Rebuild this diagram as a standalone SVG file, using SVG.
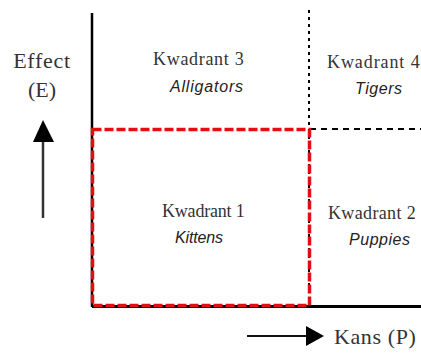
<svg xmlns="http://www.w3.org/2000/svg" width="421" height="354" viewBox="0 0 421 354">
<defs>
<style>
.serif{font-family:"Liberation Serif","DejaVu Serif",serif;fill:#333;}
.kw{font-size:18px;letter-spacing:0.3px;}
.lab{font-family:"Liberation Sans",Arial,sans-serif;font-style:italic;font-size:16px;fill:#222;}
.ax{font-size:22px;}
</style>
</defs>
<rect width="421" height="354" fill="#fff"/>
<g id="connectors">
<line x1="92" y1="13" x2="92" y2="307" stroke="#000" stroke-width="2.5"/>
<line x1="92" y1="306.5" x2="421" y2="306.5" stroke="#000" stroke-width="3"/>
<line x1="309" y1="10" x2="309" y2="306" stroke="#000" stroke-width="2" stroke-dasharray="3 4"/>
<line x1="310" y1="129" x2="421" y2="129" stroke="#000" stroke-width="2" stroke-dasharray="6 5"/>
<rect x="92.5" y="129.5" width="217" height="176" fill="none" stroke="#e01010" stroke-width="3.5" stroke-dasharray="9 3"/>
<line x1="43" y1="218" x2="43" y2="138" stroke="#333" stroke-width="2.5"/>
<polygon points="43,120 33,142 54,142" fill="#000"/>
<line x1="247" y1="336" x2="309" y2="336" stroke="#111" stroke-width="2"/>
<polygon points="324,336 306,326 306,346" fill="#000"/>
</g>
<g id="axis-y"><text class="serif ax" x="42" y="68" text-anchor="middle" letter-spacing="0.7">Effect</text><text class="serif ax" x="42" y="97" text-anchor="middle">(E)</text></g>
<g id="axis-x"><text class="serif ax" x="334" y="344" letter-spacing="0.6">Kans (P)</text></g>
<g id="q3"><text class="serif kw" x="153" y="65" textLength="91">Kwadrant 3</text><text class="lab" x="170" y="92" textLength="73">Alligators</text></g>
<g id="q4"><text class="serif kw" x="327" y="68" textLength="93">Kwadrant 4</text><text class="lab" x="355" y="94" textLength="47">Tigers</text></g>
<g id="q1"><text class="serif kw" x="162" y="217" textLength="83">Kwadrant 1</text><text class="lab" x="175" y="243" textLength="48">Kittens</text></g>
<g id="q2"><text class="serif kw" x="328" y="219" textLength="88">Kwadrant 2</text><text class="lab" x="349" y="245" textLength="61">Puppies</text></g>
</svg>
